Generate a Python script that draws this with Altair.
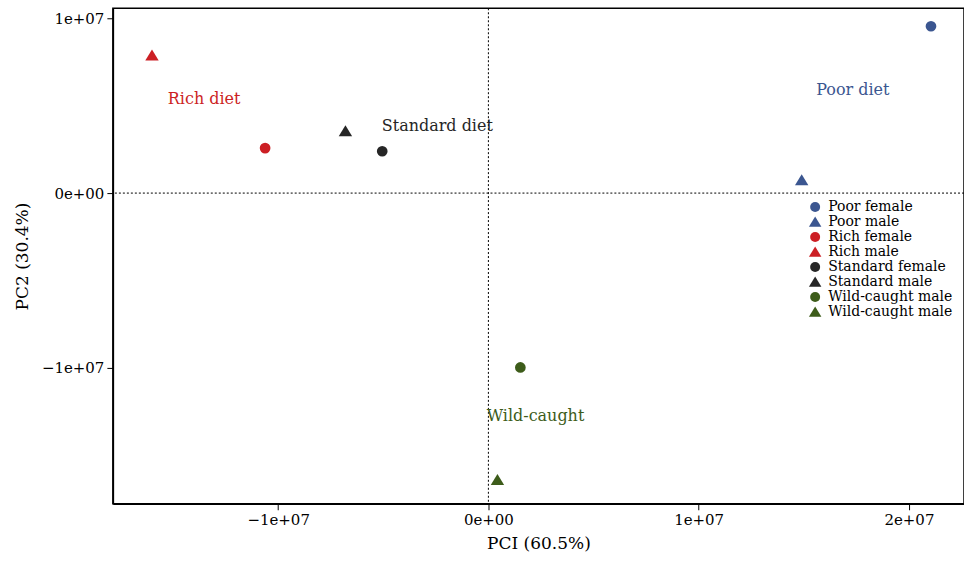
import altair as alt
import pandas as pd

groups = ["Poor female", "Poor male", "Rich female", "Rich male",
          "Standard female", "Standard male", "Wild-caught female", "Wild-caught male"]
pc1 = [2.105e7, 1.49e7, -1.062e7, -1.60e7, -0.505e7, -0.68e7, 0.152e7, 0.043e7]
pc2 = [0.957e7, 0.074e7, 0.258e7, 0.79e7, 0.24e7, 0.355e7, -1.0e7, -1.645e7]
TRI = "M-1.25,0.95L1.25,0.95L0,-1.1Z"
shapes = ["circle", TRI] * 4
colors = ["#3B5690", "#3B5690", "#CC1F24", "#CC1F24",
          "#262626", "#262626", "#3D5C1A", "#3D5C1A"]

label_text = ["Rich diet", "Standard diet", "Poor diet", "Wild-caught"]
label_x = [-1.352e7, -0.243e7, 1.733e7, 0.224e7]
label_y = [0.539e7, 0.384e7, 0.59e7, -1.278e7]
label_color = ["#CC1F24", "#262626", "#3B5690", "#3D5C1A"]

FONT = "DejaVu Serif"

pts = pd.DataFrame({"group": groups, "pc1": pc1, "pc2": pc2})
labs = pd.DataFrame({"text": label_text, "x": label_x, "y": label_y, "c": label_color})

xdom = [-1.786e7, 2.262e7]
ydom = [-1.782e7, 1.06e7]

lab_expr = ("datum.value == 0 ? '0e+00' : (datum.value < 0 ? '\u2212' : '') + "
            "format(abs(datum.value) / 1e7, 'd') + 'e+07'")

xs = alt.Scale(domain=xdom, nice=False, zero=False)
ys = alt.Scale(domain=ydom, nice=False, zero=False)

points = alt.Chart(pts).mark_point(filled=True, size=115, opacity=1).encode(
    x=alt.X("pc1:Q", scale=xs, title="PCI (60.5%)",
            axis=alt.Axis(values=[-1e7, 0, 1e7, 2e7], labelExpr=lab_expr)),
    y=alt.Y("pc2:Q", scale=ys, title="PC2 (30.4%)",
            axis=alt.Axis(values=[-1e7, 0, 1e7], labelExpr=lab_expr)),
    color=alt.Color("group:N", scale=alt.Scale(domain=groups, range=colors),
                    legend=alt.Legend(title=None, orient="none", legendX=696, legendY=192,
                                      labelExpr="datum.label == 'Wild-caught female' ? 'Wild-caught male' : datum.label",
                                      symbolSize=100, labelFontSize=14, labelFont=FONT,
                                      rowPadding=1, labelOffset=6, symbolStrokeWidth=0,
                                      labelColor="#000000")),
    shape=alt.Shape("group:N", scale=alt.Scale(domain=groups, range=shapes)),
)

vrule = alt.Chart(pd.DataFrame({"v": [0]})).mark_rule(color="black", strokeDash=[2, 2], strokeWidth=1).encode(
    x=alt.X("v:Q", scale=xs))
hrule = alt.Chart(pd.DataFrame({"v": [0]})).mark_rule(color="black", strokeDash=[2, 2], strokeWidth=1).encode(
    y=alt.Y("v:Q", scale=ys))

texts = alt.Chart(labs).mark_text(font=FONT, fontSize=16).encode(
    x=alt.X("x:Q", scale=xs),
    y=alt.Y("y:Q", scale=ys),
    text="text:N",
    color=alt.Color("c:N", scale=None),
)

chart = alt.layer(vrule, hrule, points, texts).properties(
    width=852, height=496,
    autosize=alt.AutoSizeParams(type="none"),
    padding={"left": 113, "top": 8, "right": 0, "bottom": 58},
).configure_view(
    stroke="black", strokeWidth=1.5
).configure_axis(
    grid=False, domainColor="black", domainWidth=1.5, tickColor="black", tickSize=6,
    labelFont=FONT, labelFontSize=15, labelColor="#000000", titleFont=FONT,
    titleFontSize=17, titleFontWeight="normal", titleColor="#000000", labelPadding=3,
).configure_axisX(titlePadding=8).configure_axisY(titlePadding=10)

chart.save("out.html", embed_options={"renderer": "svg", "actions": False})
